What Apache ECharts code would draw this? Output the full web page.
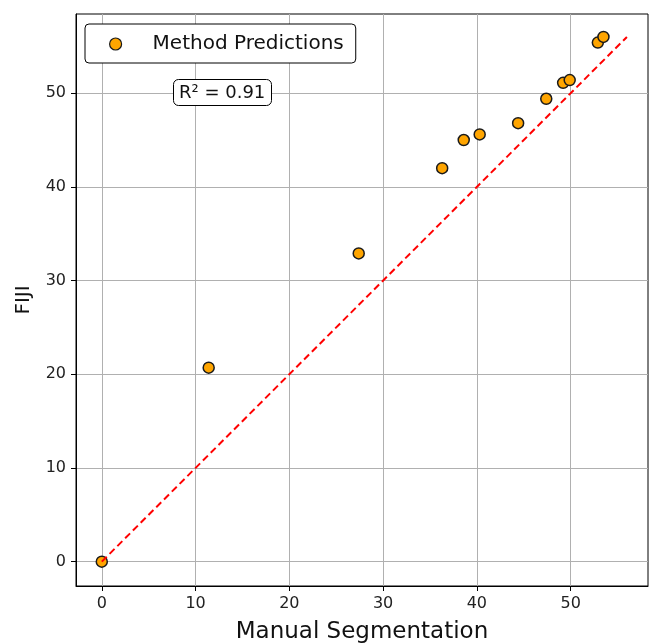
<!DOCTYPE html>
<html>
<head>
<meta charset="utf-8">
<script src="https://cdn.jsdelivr.net/npm/echarts@6/dist/echarts.min.js"></script>
<style>
  html, body { margin: 0; padding: 0; background: #fff; }
  #main { width: 651px; height: 643px; }
</style>
</head>
<body>
<div id="main"></div>
<script>
// manual segmentation vs FIJI
var manual = [0, 11.4, 27.4, 36.3, 38.6, 40.3, 44.4, 47.4, 49.2, 49.9, 52.9, 53.5];
var fiji = [0, 20.7, 32.9, 42.0, 45.0, 45.6, 46.8, 49.4, 51.1, 51.4, 55.4, 56.0];
var tickValues = [0, 10, 20, 30, 40, 50];
var r2Text = 'R² = 0.91';

var points = manual.map(function (v, i) { return [v, fiji[i]]; });
var lineMax = Math.max.apply(null, fiji);

var chart = echarts.init(document.getElementById('main'), null, { renderer: 'canvas' });
var font = 'DejaVu Sans';

function axisBase(name, lo, hi) {
  return {
    type: 'value',
    min: lo,
    max: hi,
    name: name,
    nameLocation: 'middle',
    axisLine: { show: true, onZero: false, lineStyle: { color: '#000', width: 1 } },
    axisTick: { show: true, inside: false, length: 5, lineStyle: { color: '#000' }, customValues: tickValues },
    axisLabel: { fontFamily: font, fontSize: 16, color: '#222', margin: 10, customValues: tickValues },
    splitLine: { show: true, lineStyle: { color: '#b0b0b0', width: 1 }, customValues: tickValues }
  };
}

var xAxis = axisBase('Manual Segmentation', -2.75, 58.25);
xAxis.nameGap = 35;
xAxis.nameTextStyle = { fontFamily: font, fontSize: 23, color: '#111' };
var yAxis = axisBase('FIJI', -2.6, 58.45);
yAxis.nameGap = 42;
yAxis.nameTextStyle = { fontFamily: font, fontSize: 20, color: '#111' };

var option = {
  animation: false,
  backgroundColor: '#fff',
  grid: {
    left: 76, top: 14, right: 3, bottom: 57,
    outerBoundsMode: 'none',
    containLabel: false,
    show: true, borderColor: '#000', borderWidth: 1, backgroundColor: 'transparent'
  },
  legend: {
    left: 85,
    top: 24,
    data: [{ name: 'Method Predictions', icon: 'circle' }],
    itemWidth: 12,
    itemHeight: 12,
    itemStyle: { borderWidth: 1.2, borderColor: '#1a1a1a' },
    padding: [10, 12, 9, 24],
    borderColor: '#000',
    borderWidth: 1,
    borderRadius: 4,
    backgroundColor: '#fff',
    textStyle: { fontFamily: font, fontSize: 20, color: '#111', padding: [0, 0, 0, 26] }
  },
  title: {
    text: r2Text,
    left: 173,
    top: 79,
    padding: [5, 6, 4, 6],
    borderColor: '#000',
    borderWidth: 1,
    borderRadius: 5,
    backgroundColor: '#fff',
    textStyle: { fontFamily: font, fontSize: 18, fontWeight: 'normal', color: '#111' }
  },
  xAxis: xAxis,
  yAxis: yAxis,
  series: [
    {
      name: 'Method Predictions',
      type: 'scatter',
      data: points,
      symbolSize: 11,
      z: 3,
      itemStyle: { color: '#FFA500', borderColor: '#1a1a1a', borderWidth: 1.5, opacity: 1 }
    },
    {
      name: 'Ideal',
      type: 'line',
      data: [[0, 0], [lineMax, lineMax]],
      symbol: 'none',
      z: 4,
      lineStyle: { color: '#ff0000', width: 2, type: [7, 4] }
    }
  ]
};

chart.setOption(option);
</script>
</body>
</html>
